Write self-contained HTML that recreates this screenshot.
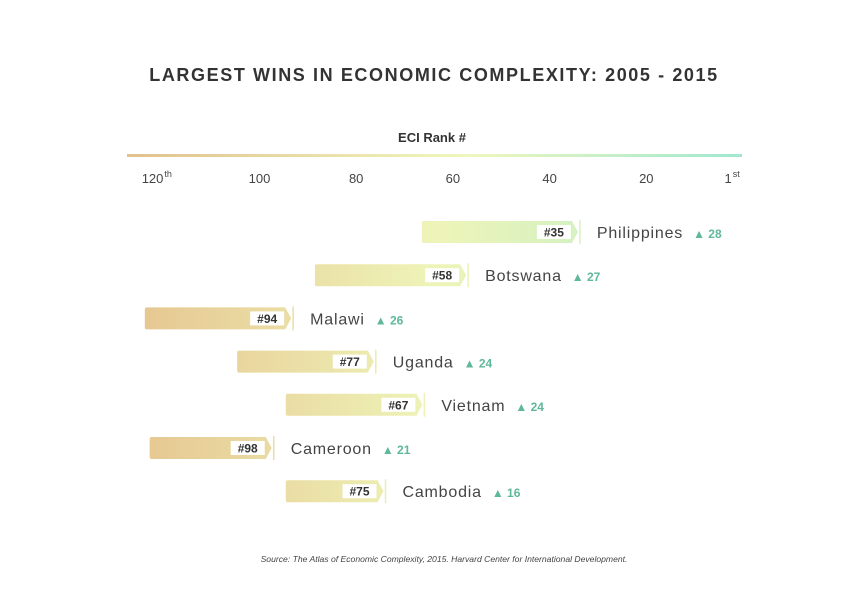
<!DOCTYPE html>
<html><head><meta charset="utf-8"><style>
body{margin:0;background:#fff;font-family:"Liberation Sans",sans-serif;}
</style></head><body>
<svg width="858" height="601" viewBox="0 0 858 601" xmlns="http://www.w3.org/2000/svg">
<defs>
<linearGradient id="axg" gradientUnits="userSpaceOnUse" x1="127" y1="0" x2="742" y2="0">
<stop offset="0" stop-color="#e2c18d"/><stop offset="0.55" stop-color="#eff7bd"/><stop offset="1" stop-color="#9fe8d0"/>
</linearGradient>
<linearGradient id="barg" gradientUnits="userSpaceOnUse" x1="127" y1="0" x2="742" y2="0">
<stop offset="0" stop-color="#e6c590"/><stop offset="0.5" stop-color="#eef4b8"/><stop offset="1" stop-color="#b8efcc"/>
</linearGradient>
</defs>
<text x="434" y="81" text-anchor="middle" font-size="18" font-weight="bold" fill="#333" letter-spacing="1.6">LARGEST WINS IN ECONOMIC COMPLEXITY: 2005 - 2015</text>
<text x="432" y="142" text-anchor="middle" font-size="13" font-weight="bold" fill="#333">ECI Rank #</text>
<rect x="127" y="154" width="615" height="3" fill="url(#axg)"/>
<g id="ticks"></g>
<g id="bars"></g>
<text x="444" y="562" text-anchor="middle" font-size="8.6" font-style="italic" fill="#444">Source: The Atlas of Economic Complexity, 2015. Harvard Center for International Development.</text>
</svg>
<script>
const countries=["Philippines","Botswana","Malawi","Uganda","Vietnam","Cameroon","Cambodia"];
const rank2015=[35,58,94,77,67,98,75];
const gains=[28,27,26,24,24,21,16];
const tickValues=[120,100,80,60,40,20,1];
const tickLabels=["120","100","80","60","40","20","1"];
const tickSup=["th","","","","","","st"];
const NS="http://www.w3.org/2000/svg";
function ax(r){return 743-r*4.835;}
function xb(r){return 728-r*4.86;}
function yr(i){return 232+i*43.2;}
function mk(t,a,p){const e=document.createElementNS(NS,t);for(const k in a)e.setAttribute(k,a[k]);p.appendChild(e);return e;}
const tg=document.getElementById('ticks');
tickValues.forEach((v,i)=>{
 const t=mk('text',{x:ax(v)-(tickSup[i]?6:0),y:183,'text-anchor':'middle','font-size':13,fill:'#444'},tg);
 
 
 t.textContent=tickLabels[i];
 if(tickSup[i]){const s=mk('tspan',{'font-size':9,dy:-6,dx:1},t);s.textContent=tickSup[i];}
});
const bg=document.getElementById('bars');
countries.forEach((c,i)=>{
 const y=yr(i),x0=xb(rank2015[i]+gains[i]),x1=xb(rank2015[i])+20;
 const g=mk('g',{},bg);
 
 
 mk('path',{d:`M${x0+2},${y-11}H${x1-6}L${x1},${y}L${x1-6},${y+11}H${x0+2}Q${x0},${y+11} ${x0},${y+9}V${y-9}Q${x0},${y-11} ${x0+2},${y-11}Z`,fill:'url(#barg)'},g);
 mk('line',{x1:x1+2,x2:x1+2,y1:y-12,y2:y+12,stroke:'url(#barg)','stroke-width':1.5},g);
 mk('rect',{x:x1-41,y:y-7,width:34,height:14,fill:'#fff'},g);
 const r=mk('text',{x:x1-24,y:y+4.5,'text-anchor':'middle','font-size':12,'font-weight':'bold',fill:'#333'},g);
 r.textContent='#'+rank2015[i];
 const n=mk('text',{x:x1+19,y:y+6,'font-size':16,fill:'#444','letter-spacing':0.8},g);
 
 
 n.textContent=c;
 const w=n.getComputedTextLength();
 const d=mk('text',{x:x1+19+w+10,y:y+6,'font-size':12,'font-weight':'bold',fill:'#5fb89a'},g);
 
 
 d.textContent='\u25B2 '+gains[i];
});
</script>
</body></html>
